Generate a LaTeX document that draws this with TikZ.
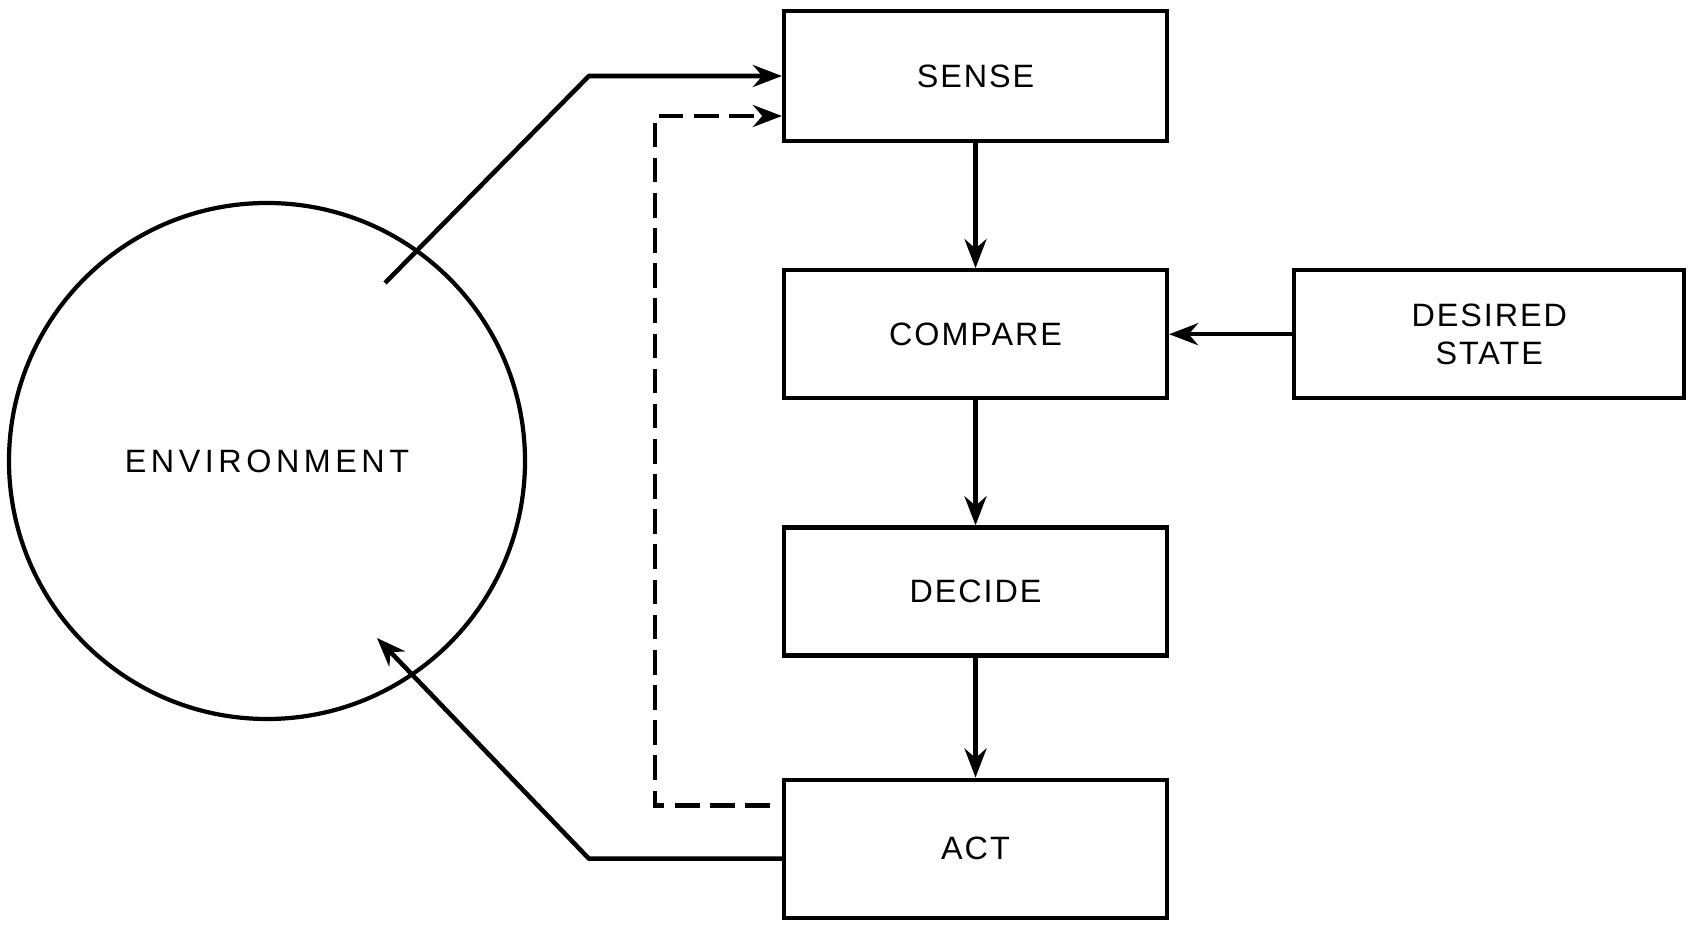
\documentclass[tikz,border=0pt]{standalone}
\usepackage{fontspec}
\setmainfont{Liberation Sans}[LetterSpace=6]
\usepackage{tikz}
\usetikzlibrary{positioning, arrows.meta}

\begin{document}
\begin{tikzpicture}[
    box/.style={
        rectangle,
        draw,
        line width=1.2pt,
        minimum width=3.83cm,
        minimum height=1.28cm,
        align=center,
        font=\fontsize{9.2}{10.8}\selectfont
    },
    arrow/.style={
        line width=1.3pt,
        -{Stealth[length=2.9mm, width=2.2mm]}
    }
]

\useasboundingbox (0,0) rectangle (16.9,9.24);

% Main loop

\node[box, minimum height=1.30cm] (sense) at (9.755,8.48) {SENSE};

\node[box, below=1.25cm of sense] (compare) {COMPARE};

\node[box, below=1.25cm of compare] (decide) {DECIDE};

\node[box, below=1.20cm of decide, minimum height=1.38cm] (act) {ACT};

\node[box, right=1.23cm of compare, minimum width=3.90cm] (desired) {
DESIRED\\STATE
};

\node[circle, draw, line width=1.2pt, minimum size=5.16cm,
    font=\fontsize{9.2}{10.8}\selectfont\addfontfeature{LetterSpace=14}] (env) at (2.67,4.63) {ENVIRONMENT};

\coordinate (envout) at (3.85,6.41);
\coordinate (envin) at (3.77,2.86);


% Arrows

\draw[arrow] (sense)--(compare);
\draw[arrow] (compare)--(decide);
\draw[arrow] (decide)--(act);
\draw[arrow] (desired)--(compare);

\draw[arrow, line join=round] (envout)--([xshift=-1.93cm]sense.west)--(sense.west);
\draw[arrow, dash pattern=on 7pt off 3pt] ([shift={(-0.12cm,0.43cm)}]act.west)-|(6.55,7.5)|-([yshift=-0.4cm]sense.west);
\draw[arrow, line join=round] ([yshift=-0.1cm]act.west)--([shift={(-1.93cm,-0.1cm)}]act.west)--(envin);

\end{tikzpicture}
\end{document}
